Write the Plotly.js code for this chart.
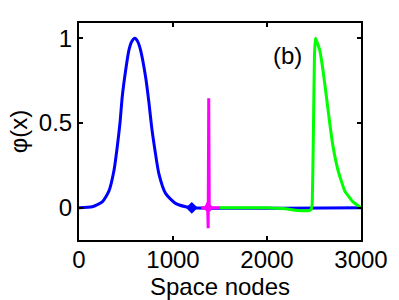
<!DOCTYPE html>
<html>
<head>
<meta charset="utf-8">
<script src="https://cdn.plot.ly/plotly-3.0.1.min.js"></script>
<style>html,body{margin:0;padding:0;background:#fff;}#chart{width:399px;height:300px;}</style>
</head>
<body>
<div id="chart"></div>
<script>
// Blue pulse (left)
var blueX = [0,141,248,319,372,407,436,460,496,531,560,595,625,655,709,744,772,808,850,921,1027,1134,1200,3000];
var blueY = [0,0.006,0.035,0.10,0.22,0.36,0.5,0.655,0.81,0.93,0.98,1.0,0.98,0.93,0.77,0.62,0.48,0.34,0.20,0.085,0.026,0.006,0,0];
var blueMarkX = [1200];
var blueMarkY = [0];
// Magenta spike
var magX = [1300,1360,1368,1374,1380,1386,1392,1400,1495];
var magY = [0,0,0.03,-0.12,0.646,-0.02,0.01,0,0];
var magMarkX = [1372];
var magMarkY = [0];
// Green pulse (right)
var greenX = [1495,1600,1800,2000,2100,2200,2300,2400,2450,2470,2480,2495,2505,2515,2530,2561,2596,2632,2667,2703,2756,2827,2915,2986,3000];
var greenY = [0,0,0,0,-0.002,-0.006,-0.014,-0.018,-0.016,-0.01,0.02,0.5,0.9,1.0,0.98,0.93,0.81,0.655,0.5,0.36,0.22,0.10,0.035,0.006,0];
// Axis ticks
var xTicks = [0,1000,2000,3000];
var yTicks = [0,0.5,1];
var yTickText = ['0','0.5','1'];

var traces = [
  {x: blueX, y: blueY, mode: 'lines', line: {color: '#0000ff', width: 3, shape: 'spline', smoothing: 0.6}, hoverinfo: 'skip'},
  {x: blueMarkX, y: blueMarkY, mode: 'markers', marker: {symbol: 'diamond', color: '#0000ff', size: 9}, hoverinfo: 'skip'},
  {x: greenX, y: greenY, mode: 'lines', line: {color: '#00ff00', width: 3, shape: 'spline', smoothing: 0.4}, hoverinfo: 'skip'},
  {x: magX, y: magY, mode: 'lines', line: {color: '#ff00ff', width: 3}, hoverinfo: 'skip'},
  {x: magMarkX, y: magMarkY, mode: 'markers', marker: {symbol: 'diamond', color: '#ff00ff', size: 8}, hoverinfo: 'skip'}
];

var font = {family: 'Liberation Sans, Arial, sans-serif', size: 24, color: '#000'};
var layout = {
  width: 399, height: 300,
  margin: {l: 79, r: 38, t: 23, b: 60},
  paper_bgcolor: '#fff', plot_bgcolor: '#fff',
  showlegend: false,
  font: font,
  xaxis: {
    range: [0, 3000], tickvals: xTicks, ticktext: xTicks.map(String),
    showgrid: false, zeroline: false,
    showline: true, linecolor: '#000', linewidth: 2, mirror: 'allticks',
    ticks: 'inside', ticklen: 4, tickwidth: 2, tickcolor: '#000',
    tickfont: font, ticklabelstandoff: -3,
    title: {text: 'Space nodes', font: font, standoff: 0}
  },
  yaxis: {
    range: [-0.19, 1.09], tickvals: yTicks, ticktext: yTickText,
    showgrid: false, zeroline: false,
    showline: true, linecolor: '#000', linewidth: 2, mirror: 'allticks',
    ticks: 'inside', ticklen: 4, tickwidth: 2, tickcolor: '#000',
    tickfont: font,
    title: {text: 'φ(x)', font: font, standoff: 4}
  },
  annotations: [
    {x: 2220, y: 0.9, xref: 'x', yref: 'y', text: '(b)', showarrow: false, font: font}
  ]
};
Plotly.newPlot('chart', traces, layout, {staticPlot: true, displayModeBar: false});
</script>
</body>
</html>
